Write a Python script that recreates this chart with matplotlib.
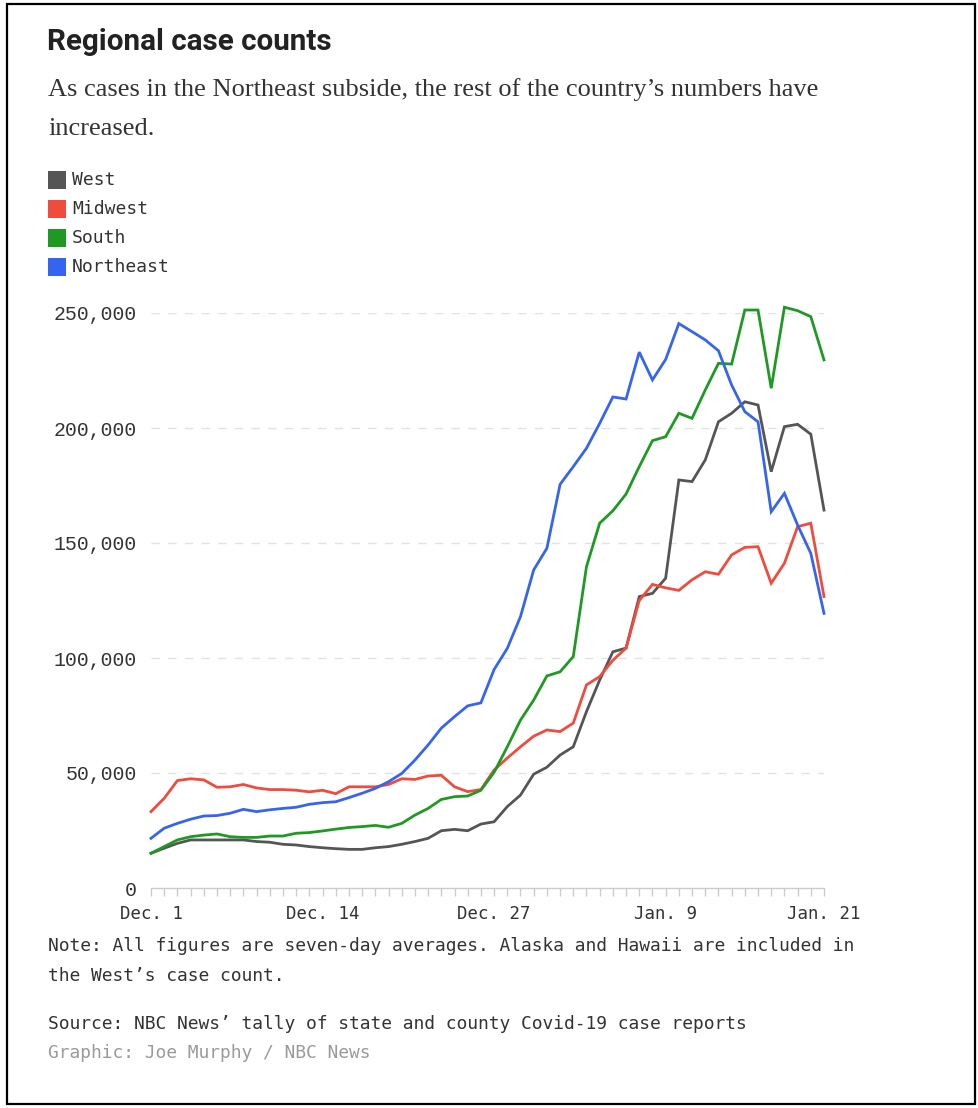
import matplotlib
matplotlib.use("Agg")
import matplotlib.pyplot as plt
from matplotlib.patches import Rectangle
from matplotlib.ticker import FuncFormatter, FixedLocator

# ---- data (seven-day averages, Dec. 1 .. Jan. 21) ----
days = list(range(52))
tick_positions = [0, 13, 26, 39, 51]
tick_labels = ["Dec. 1", "Dec. 14", "Dec. 27", "Jan. 9", "Jan. 21"]

west = [15.1, 17.3, 19.4, 20.9, 20.9, 20.9, 20.9, 20.9, 20.2, 19.9, 19.0, 18.7, 18.0,
        17.5, 17.1, 16.8, 16.8, 17.5, 18.0, 19.0, 20.2, 21.6, 24.9, 25.5, 24.9, 27.8,
        28.8, 35.4, 40.4, 49.5, 52.5, 57.8, 61.4, 76.7, 90.4, 102.7, 104.3, 126.7, 128.1,
        134.7, 177.4, 176.7, 186.1, 202.7, 206.4, 211.4, 210.0, 181.0, 200.6, 201.6, 197.3, 164.3]
midwest = [33.2, 39.0, 46.7, 47.5, 47.0, 43.8, 44.0, 45.0, 43.5, 42.8, 42.8, 42.5, 41.8,
           42.5, 41.0, 44.0, 44.0, 44.0, 45.0, 47.5, 47.2, 48.7, 49.0, 44.0, 41.9, 42.8,
           51.3, 56.5, 61.4, 66.0, 68.7, 68.0, 71.7, 88.3, 91.9, 99.0, 104.3, 125.0, 132.0,
           130.5, 129.4, 134.0, 137.5, 136.4, 144.8, 148.1, 148.4, 132.5, 141.2, 157.1, 158.6, 126.7]
south = [15.1, 18.0, 20.9, 22.3, 23.0, 23.5, 22.3, 22.0, 22.0, 22.6, 22.6, 23.8, 24.1,
         24.8, 25.6, 26.3, 26.7, 27.2, 26.4, 28.1, 31.7, 34.6, 38.5, 39.7, 40.0, 42.5,
         50.3, 61.4, 73.0, 81.7, 92.2, 94.0, 100.6, 139.7, 158.6, 164.0, 171.3, 183.2, 194.5,
         196.2, 206.4, 204.2, 216.5, 228.1, 227.8, 251.3, 251.3, 217.3, 252.5, 251.0, 248.4, 229.6]
northeast = [21.6, 26.0, 28.1, 29.9, 31.3, 31.5, 32.5, 34.2, 33.2, 34.0, 34.6, 35.1, 36.4,
             37.1, 37.5, 39.3, 41.2, 43.3, 46.2, 49.8, 55.6, 62.2, 69.5, 74.5, 79.2, 80.5,
             95.0, 104.2, 118.0, 138.3, 147.7, 175.5, 183.2, 191.2, 202.0, 213.5, 212.6, 233.0, 220.9,
             229.8, 245.4, 241.9, 238.3, 233.6, 218.7, 207.1, 202.7, 163.6, 171.6, 157.8, 145.5, 119.4]

series_names = ["West", "Midwest", "South", "Northeast"]
series_values = [west, midwest, south, northeast]
series_colors = ["#555555", "#f04b3d", "#1e9a22", "#3565f0"]
y_ticks = [0, 50000, 100000, 150000, 200000, 250000]

W, H = 979, 1108
fig = plt.figure(figsize=(W / 100, H / 100), dpi=100)
fig.patch.set_facecolor("white")

def fx(px):
    return px / W

def fy(py):
    return 1 - py / H

# outer border
fig.add_artist(Rectangle((fx(7), fy(1104)), fx(968), 1100 / H, transform=fig.transFigure,
                         fill=False, edgecolor="black", linewidth=1.6))

# title + subtitle
fig.text(fx(47), fy(42), "Regional case counts", fontsize=21.3, fontweight="bold",
         family=["Roboto", "DejaVu Sans"], color="#222222", va="center")
fig.text(fx(48), fy(90), "As cases in the Northeast subside, the rest of the country\u2019s numbers have",
         fontsize=19, family=["Liberation Serif", "DejaVu Serif"], color="#333333", va="center")
fig.text(fx(48), fy(129), "increased.",
         fontsize=19, family=["Liberation Serif", "DejaVu Serif"], color="#333333", va="center")

# legend
mono = ["DejaVu Sans Mono"]
for k, (name, col) in enumerate(zip(series_names, series_colors)):
    yc = 180 + k * 29
    fig.add_artist(Rectangle((fx(48), fy(yc + 9)), fx(18), 18 / H, transform=fig.transFigure,
                             facecolor=col, edgecolor="none"))
    fig.text(fx(72), fy(yc), name, fontsize=13, family=mono, color="#333333", va="center")

# axes
ax = fig.add_axes([fx(151), fy(888), fx(824) - fx(151), (888 - 313) / H])
for name, vals, col in zip(series_names, series_values, series_colors):
    ax.plot(days, [v * 1000 for v in vals], color=col, linewidth=2.0, clip_on=False,
            solid_joinstyle="miter", zorder=3)

ax.set_xlim(0, 51)
ax.set_ylim(0, 250000)
for s in ["top", "right", "left"]:
    ax.spines[s].set_visible(False)
ax.spines["bottom"].set_color("#cccccc")
ax.spines["bottom"].set_linewidth(1.0)

ax.set_yticks(y_ticks)
ax.yaxis.set_major_formatter(FuncFormatter(lambda v, p: f"{int(v):,}"))
ax.tick_params(axis="y", length=0, pad=10, labelsize=14.3, labelcolor="#333333")
for lab in ax.get_yticklabels():
    lab.set_family(["Liberation Mono", "DejaVu Sans Mono"])
for yv in y_ticks[1:]:
    ax.axhline(yv, color="#e2e2e2", linewidth=1.0, linestyle=(0, (6, 6)), zorder=1)

ax.xaxis.set_major_locator(FixedLocator(tick_positions))
ax.set_xticklabels(tick_labels)
ax.xaxis.set_minor_locator(FixedLocator(days))
ax.tick_params(axis="x", which="both", length=6, color="#cccccc", width=1.0,
               pad=6, labelsize=12.5, labelcolor="#333333")
for lab in ax.get_xticklabels():
    lab.set_family(mono)

# notes
note_fs = 12.85
fig.text(fx(48), fy(946), "Note: All figures are seven-day averages. Alaska and Hawaii are included in",
         fontsize=note_fs, family=mono, color="#333333", va="center")
fig.text(fx(48), fy(976), "the West\u2019s case count.",
         fontsize=note_fs, family=mono, color="#333333", va="center")
fig.text(fx(48), fy(1024), "Source: NBC News\u2019 tally of state and county Covid-19 case reports",
         fontsize=note_fs, family=mono, color="#333333", va="center")
fig.text(fx(48), fy(1053), "Graphic: Joe Murphy / NBC News",
         fontsize=note_fs, family=mono, color="#9a9a9a", va="center")

fig.savefig("out.png", dpi=100, facecolor="white")
